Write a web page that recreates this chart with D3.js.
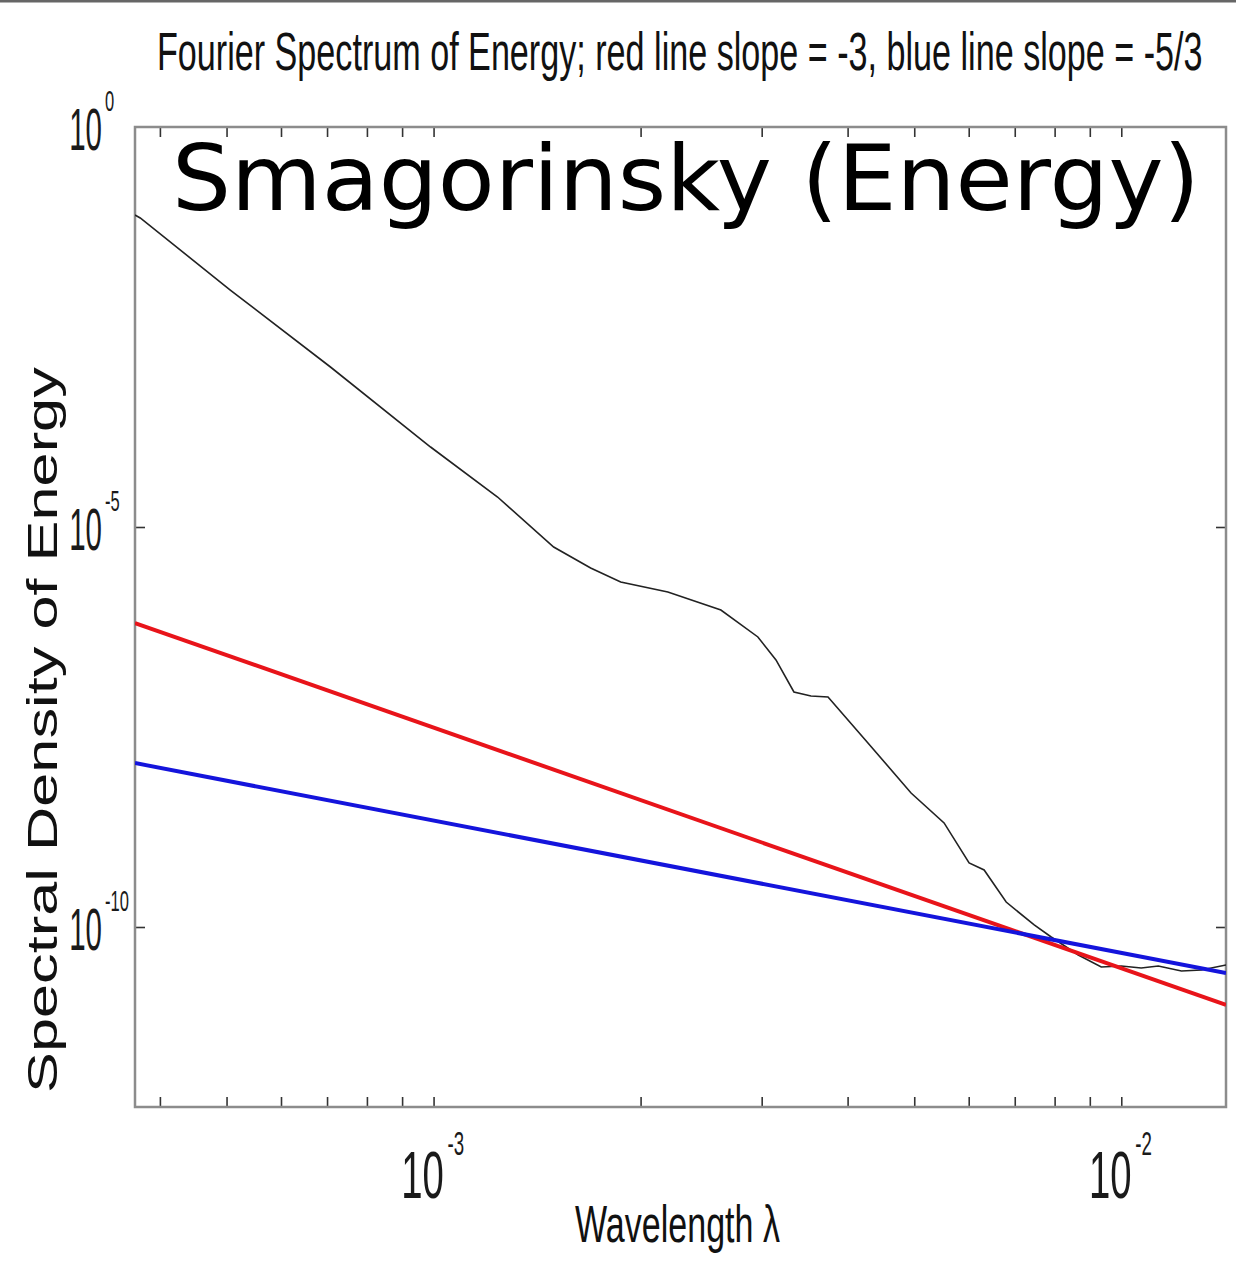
<!DOCTYPE html>
<html>
<head>
<meta charset="utf-8">
<script src="https://cdn.jsdelivr.net/npm/d3@7"></script>
<style>
  body { margin: 0; background: #fff; }
  svg { display: block; }
  .tick line { stroke: #333; stroke-width: 1.6; }
  .domain { display: none; }
</style>
</head>
<body>
<div id="chart"></div>
<script>
// black curve: spectrum (wavelength, energy density)
var specX = [3.68e-4, 3.745e-4, 5.063e-4, 7.08e-4, 9.90e-4, 1.239e-3, 1.495e-3, 1.692e-3,
  1.871e-3, 2.191e-3, 2.617e-3, 2.962e-3, 3.147e-3, 3.342e-3, 3.538e-3, 3.746e-3,
  4.282e-3, 4.947e-3, 5.525e-3, 6.008e-3, 6.318e-3, 6.802e-3, 7.471e-3, 7.909e-3,
  8.659e-3, 9.352e-3, 1.0e-2, 1.069e-2, 1.132e-2, 1.223e-2, 1.308e-2, 1.42e-2]
var specY = [7.94e-2, 7.29e-2, 9.17e-3, 1.0e-3, 1.0e-4, 2.37e-5, 5.62e-6, 3.07e-6,
  2.05e-6, 1.54e-6, 9.17e-7, 4.22e-7, 2.18e-7, 8.66e-8, 7.72e-8, 7.50e-8,
  2.0e-8, 4.73e-9, 2.0e-9, 6.31e-10, 5.16e-10, 2.05e-10, 1.06e-10, 7.50e-11,
  4.47e-11, 3.16e-11, 3.25e-11, 3.07e-11, 3.25e-11, 2.82e-11, 2.90e-11, 3.35e-11]

// reference slopes, end points
var redX = [3.68e-4, 1.42e-2]
var redY = [6.3e-7, 1.06e-11]
var blueX = [3.68e-4, 1.42e-2]
var blueY = [1.12e-8, 2.66e-11]

var xMinor = [4e-4, 5e-4, 6e-4, 7e-4, 8e-4, 9e-4, 1e-3, 2e-3, 3e-3, 4e-3, 5e-3, 6e-3, 7e-3, 8e-3, 9e-3, 1e-2]
var xLabels = [{v: 1e-3, exp: '-3'}, {v: 1e-2, exp: '-2'}]
var yTicks = [1e-5, 1e-10]
var yLabels = [{v: 1, exp: '0'}, {v: 1e-5, exp: '-5'}, {v: 1e-10, exp: '-10'}]

var W = 1236, H = 1264
var m = {left: 135, right: 1226, top: 127, bottom: 1107}

var svg = d3.select('#chart').append('svg').attr('width', W).attr('height', H)

var x = d3.scaleLog().domain([3.68e-4, 1.42e-2]).range([m.left, m.right])
var y = d3.scaleLog().domain([Math.pow(10, -12.25), 1]).range([m.bottom, m.top])

// thin rule along the top of the screenshot
svg.append('line').attr('x1', 0).attr('x2', W).attr('y1', 1).attr('y2', 1)
  .attr('stroke', '#666').attr('stroke-width', 3)

svg.append('clipPath').attr('id', 'clip').append('rect')
  .attr('x', m.left).attr('y', m.top)
  .attr('width', m.right - m.left).attr('height', m.bottom - m.top)

// ticks, mirrored on all sides, pointing inwards
svg.append('g').attr('transform', 'translate(0,' + m.bottom + ')')
  .call(d3.axisBottom(x).tickValues(xMinor).tickSize(-10).tickSizeOuter(0).tickFormat(''))
svg.append('g').attr('transform', 'translate(0,' + m.top + ')')
  .call(d3.axisTop(x).tickValues(xMinor).tickSize(-10).tickSizeOuter(0).tickFormat(''))
svg.append('g').attr('transform', 'translate(' + m.left + ',0)')
  .call(d3.axisLeft(y).tickValues(yTicks).tickSize(-10).tickSizeOuter(0).tickFormat(''))
svg.append('g').attr('transform', 'translate(' + m.right + ',0)')
  .call(d3.axisRight(y).tickValues(yTicks).tickSize(-10).tickSizeOuter(0).tickFormat(''))

svg.append('rect')
  .attr('x', m.left).attr('y', m.top)
  .attr('width', m.right - m.left).attr('height', m.bottom - m.top)
  .attr('fill', 'none').attr('stroke', '#8c8c8c').attr('stroke-width', 2.5)

var line = d3.line().x(function(d){ return x(d[0]) }).y(function(d){ return y(d[1]) })
var plot = svg.append('g').attr('clip-path', 'url(#clip)')

plot.append('path').datum(d3.zip(specX, specY))
  .attr('d', line).attr('fill', 'none').attr('stroke', '#222').attr('stroke-width', 1.6)
plot.append('path').datum(d3.zip(redX, redY))
  .attr('d', line).attr('fill', 'none').attr('stroke', '#e8141a').attr('stroke-width', 4)
plot.append('path').datum(d3.zip(blueX, blueY))
  .attr('d', line).attr('fill', 'none').attr('stroke', '#1414dc').attr('stroke-width', 4)

var helv = '"Liberation Sans", Arial, sans-serif'

// squeezed helvetica-like text, like the stretched matlab figure
function txt(s, px, py, size, sx, anchor){
  return svg.append('text')
    .attr('transform', 'translate(' + px + ',' + py + ') scale(' + sx + ',1)')
    .attr('text-anchor', anchor || 'start')
    .style('font-family', helv)
    .style('font-size', size + 'px')
    .attr('fill', '#1a1a1a')
    .text(s)
}

// text squeezed/stretched to a given width with a transform
function fit(s, px, py, size, width, font, rot){
  var t = svg.append('text')
    .style('font-family', font).style('font-size', size + 'px')
    .attr('fill', '#111').text(s)
  var sx = width / t.node().getComputedTextLength()
  t.attr('transform', 'translate(' + px + ',' + py + ')' + (rot ? ' rotate(' + rot + ')' : '') + ' scale(' + sx + ',1)')
  return t
}

yLabels.forEach(function(d){
  var ty = y(d.v)
  txt('10', 102, ty + 23, 59, 0.5, 'end')
  txt(d.exp, 105, ty - 16, 30, 0.55)
})

xLabels.forEach(function(d){
  var tx = x(d.v)
  txt('10', tx - 11, 1198, 66, 0.58, 'middle')
  txt(d.exp, tx + 14, 1155, 34, 0.55)
})

fit('Fourier Spectrum of Energy; red line slope = -3, blue line slope = -5/3', 157, 70, 54, 1046, helv)
fit('Wavelength λ', 575, 1242, 52, 205, helv)
fit('Spectral Density of Energy', 57, 1093, 42, 726, helv, -90)
fit('Smagorinsky (Energy)', 172, 210, 90, 1028, '"DejaVu Sans", sans-serif').attr('fill', '#000')
</script>
</body>
</html>
